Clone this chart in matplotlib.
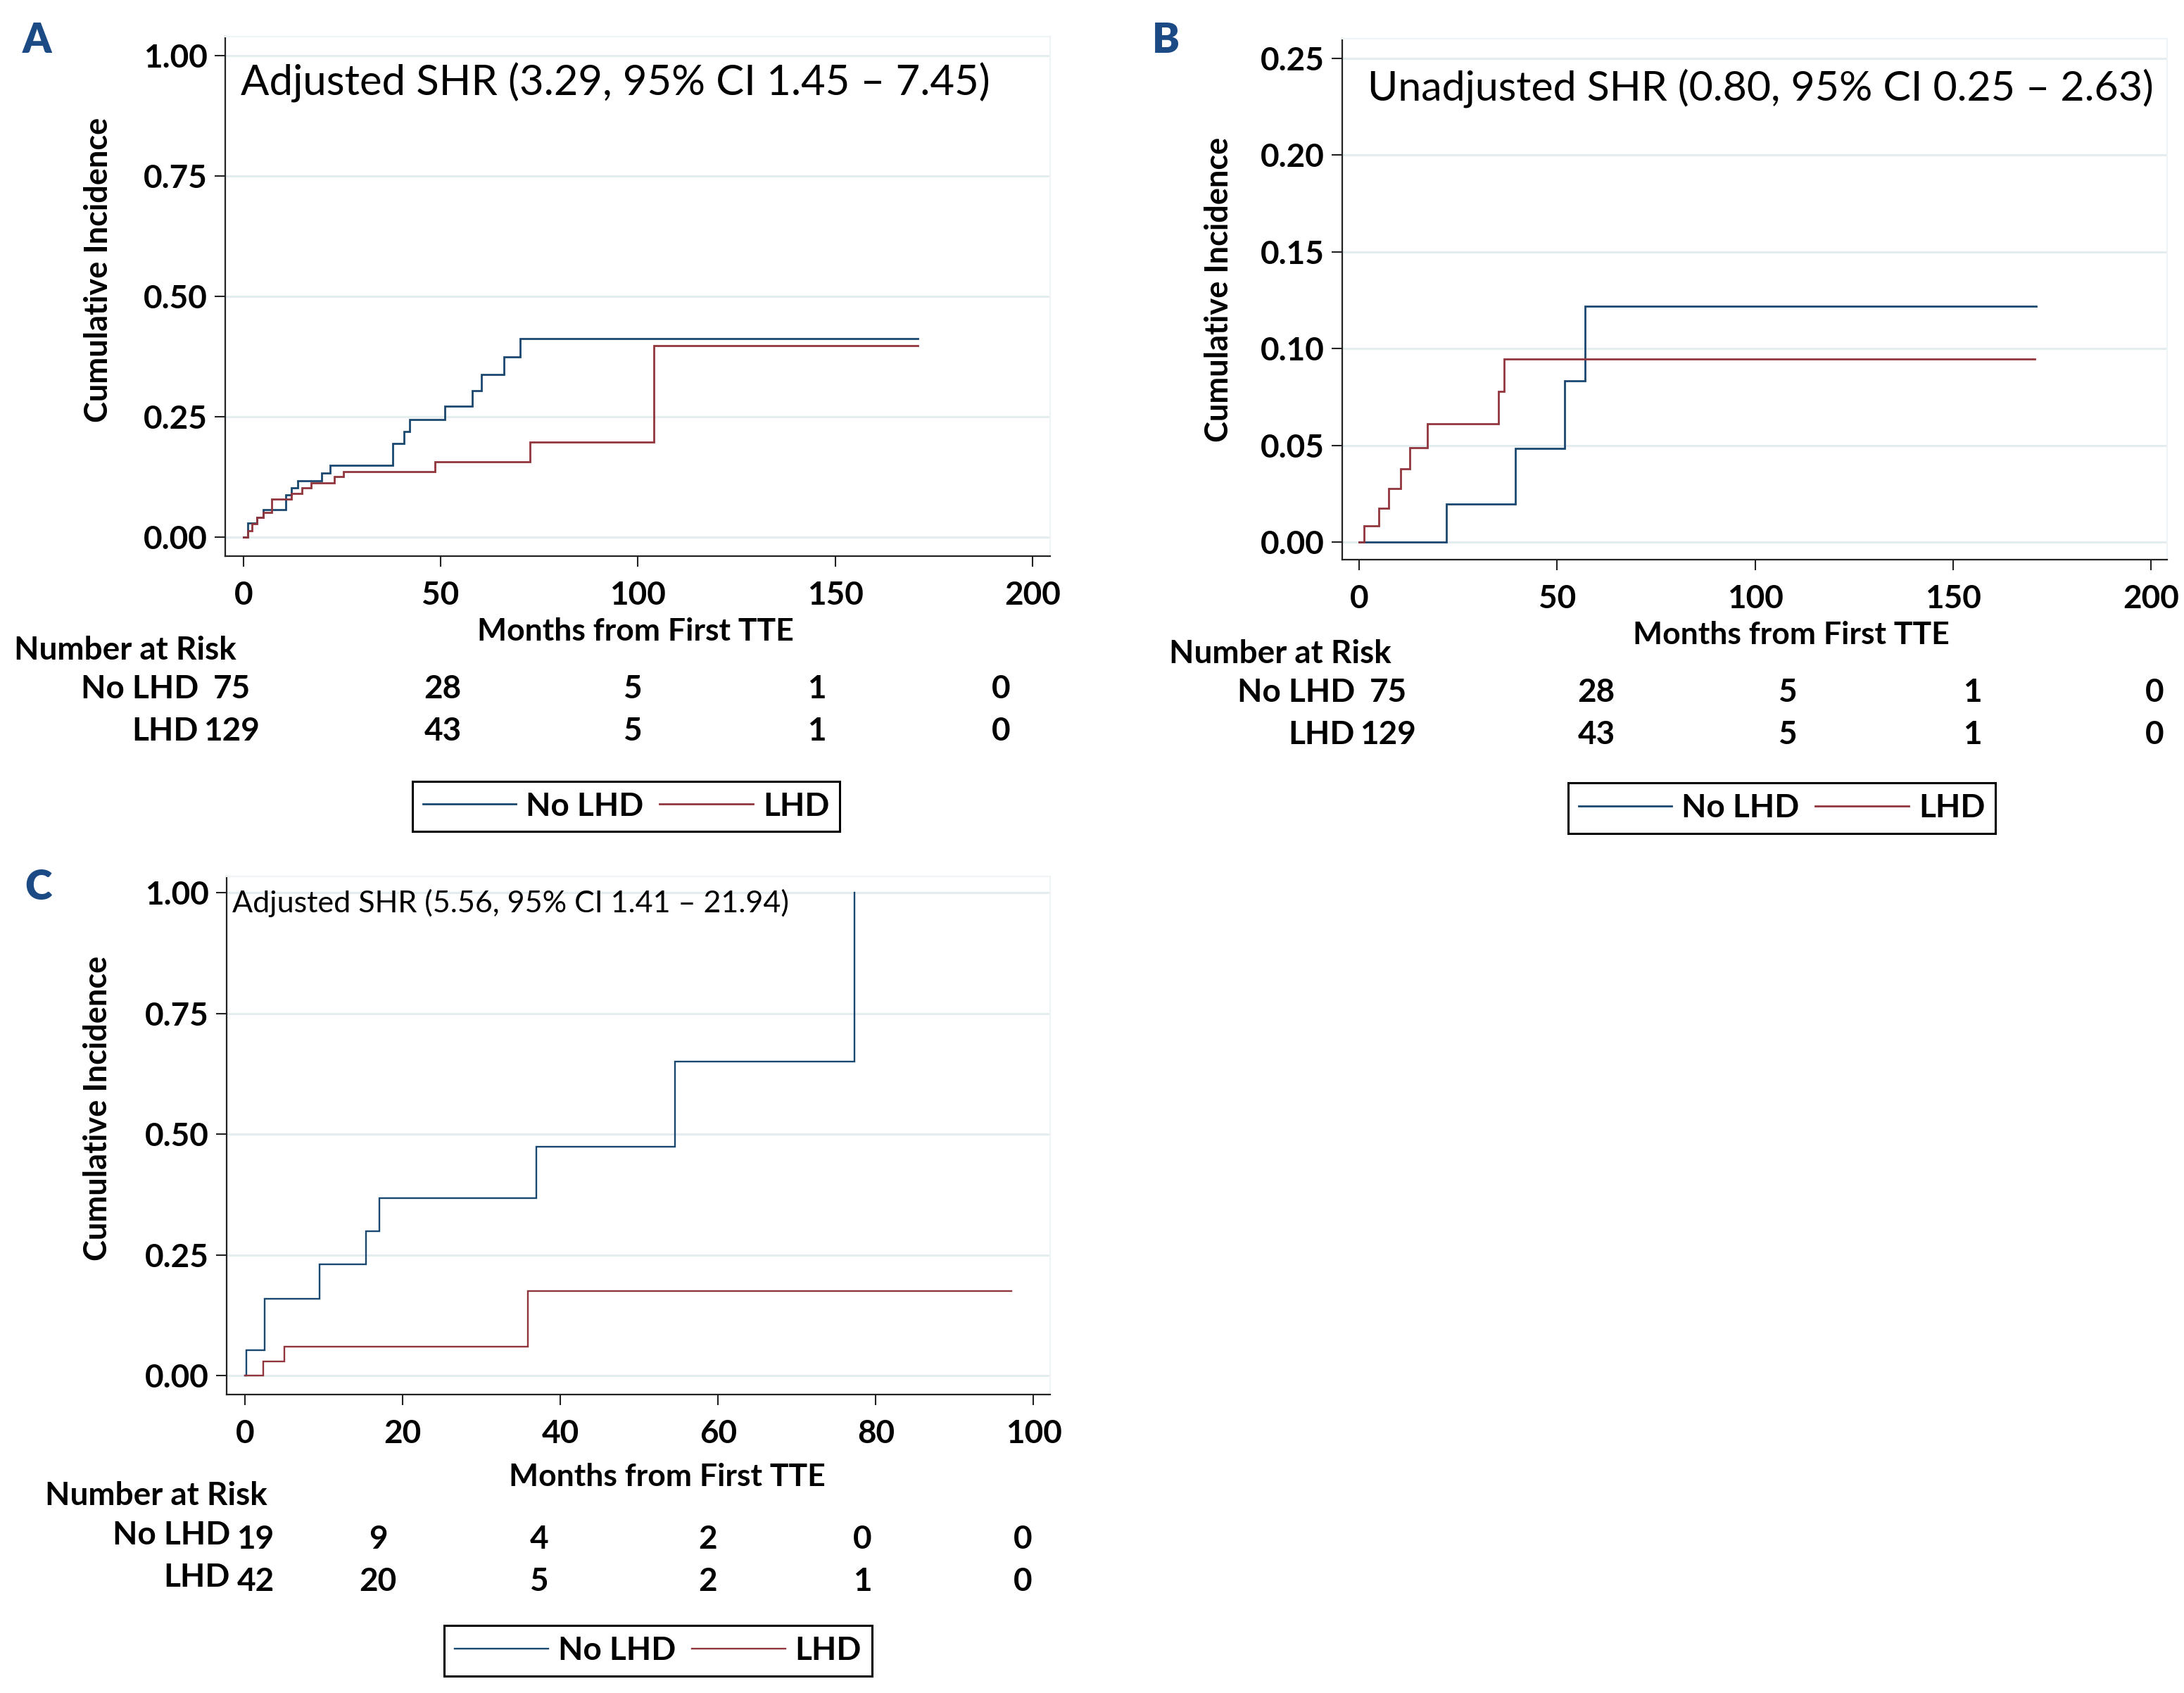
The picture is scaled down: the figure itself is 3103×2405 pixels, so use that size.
import matplotlib
matplotlib.use("Agg")
import matplotlib.pyplot as plt
from matplotlib.lines import Line2D

plt.rcParams['font.family'] = ['Lato', 'DejaVu Sans']

# ---- data ----
# panel A: adjusted, whole cohort
a_nolhd_t = [0, 1.1, 3.4, 5.1, 10.7, 12.1, 13.7, 19.9, 21.9, 37.9, 40.7, 42.2, 51.0, 58.1, 60.3, 66.0, 70.1, 171]
a_nolhd_y = [0, 0.029, 0.042, 0.057, 0.088, 0.103, 0.117, 0.134, 0.150, 0.195, 0.219, 0.245, 0.272, 0.304, 0.338, 0.375, 0.413, 0.413]
a_lhd_t = [0, 1.1, 2.1, 3.4, 5.1, 7.1, 12.1, 14.8, 17.1, 23.0, 25.3, 48.6, 72.6, 104.1, 171]
a_lhd_y = [0, 0.013, 0.028, 0.042, 0.052, 0.080, 0.091, 0.103, 0.113, 0.126, 0.137, 0.157, 0.198, 0.398, 0.398]

# panel B: unadjusted
b_nolhd_t = [0, 22.1, 39.4, 51.9, 57.1, 171]
b_nolhd_y = [0, 0.0198, 0.0484, 0.0835, 0.1218, 0.1218]
b_lhd_t = [0, 1.25, 5.0, 7.5, 10.4, 12.75, 17.25, 35.25, 36.6, 170.75]
b_lhd_y = [0, 0.0083, 0.0174, 0.0277, 0.0380, 0.0489, 0.0613, 0.0777, 0.0947, 0.0947]

# panel C: adjusted, subgroup
c_nolhd_t = [0, 0.2, 2.5, 9.5, 15.4, 17.05, 37.0, 54.5, 77.3]
c_nolhd_y = [0, 0.053, 0.159, 0.230, 0.299, 0.368, 0.474, 0.650, 1.0]
c_lhd_t = [0, 2.3, 5.0, 35.9, 97.2]
c_lhd_y = [0, 0.029, 0.060, 0.176, 0.176]

ab_xticks = [0, 50, 100, 150, 200]
a_yticks = [0, 0.25, 0.50, 0.75, 1.00]
b_yticks = [0, 0.05, 0.10, 0.15, 0.20, 0.25]
c_xticks = [0, 20, 40, 60, 80, 100]

ab_risk_nolhd = ['75', '28', '5', '1', '0']
ab_risk_lhd = ['129', '43', '5', '1', '0']
c_risk_nolhd = ['19', '9', '4', '2', '0', '0']
c_risk_lhd = ['42', '20', '5', '2', '1', '0']

a_note = 'Adjusted SHR (3.29, 95% CI 1.45 \u2013 7.45)'
b_note = 'Unadjusted SHR (0.80, 95% CI 0.25 \u2013 2.63)'
c_note = 'Adjusted SHR (5.56, 95% CI 1.41 \u2013 21.94)'

NAVY = '#1a476f'
MAROON = '#90353b'
GRID = '#e3ecef'
AXC = '#222222'
LETTER = '#1b4a84'

W, H = 3103, 2405
fig = plt.figure(figsize=(W / 100, H / 100), dpi=100)


def fx(px):
    return px / W


def fy(py):
    return 1 - py / H


def make_axes(left, top, right, bottom):
    return fig.add_axes([fx(left), fy(bottom), (right - left) / W, (bottom - top) / H])


def draw_panel(ax, curves, xlim, ylim, xticks, yticks, lw):
    for t, y, c in curves:
        ax.step(t, y, where='post', color=c, lw=lw, solid_joinstyle='miter')
    ax.set_xlim(*xlim)
    ax.set_ylim(*ylim)
    ax.set_xticks(xticks)
    ax.set_yticks(yticks)
    ax.set_yticklabels([f'{v:.2f}' for v in yticks])
    ax.yaxis.grid(True, color=GRID, lw=2.2)
    ax.set_axisbelow(True)
    for s in ['left', 'bottom']:
        ax.spines[s].set_color(AXC)
        ax.spines[s].set_linewidth(1.6)
    for s in ['top', 'right']:
        ax.spines[s].set_color('#eef3f5')
        ax.spines[s].set_linewidth(1.5)
    ax.tick_params(axis='both', direction='out', length=11, width=1.5, color=AXC,
                   labelsize=33)
    ax.tick_params(axis='y', pad=7)
    ax.tick_params(axis='x', pad=14)
    for lab in ax.get_xticklabels() + ax.get_yticklabels():
        lab.set_fontweight('bold')
    ax.set_xlabel('Months from First TTE', fontsize=32, fontweight='bold')
    ax.set_ylabel('Cumulative Incidence', fontsize=32.5, fontweight='bold')
    ax.xaxis.label.set_va('center')
    ax.yaxis.label.set_va('center')


def risk_table(title_xy, label_right, rows_y, cols_x, nolhd, lhd, label_dy=0):
    fig.text(fx(title_xy[0]), fy(title_xy[1]), 'Number at Risk', fontsize=33,
             fontweight='bold', ha='left', va='baseline')
    for name, vals, yy in [('No LHD', nolhd, rows_y[0]), ('LHD', lhd, rows_y[1])]:
        fig.text(fx(label_right), fy(yy + label_dy), name, fontsize=33,
                 fontweight='bold', ha='right', va='baseline')
        for xx, v in zip(cols_x, vals):
            fig.text(fx(xx), fy(yy), v, fontsize=33, fontweight='bold',
                     ha='center', va='baseline')


def add_legend(ax, cx, cy, lw):
    handles = [Line2D([], [], color=NAVY, lw=lw), Line2D([], [], color=MAROON, lw=lw)]
    leg = ax.legend(handles, ['No LHD', 'LHD'], loc='center', ncol=2,
                    bbox_to_anchor=(fx(cx), fy(cy)), bbox_transform=fig.transFigure,
                    prop={'size': 33, 'weight': 'bold'}, frameon=True, fancybox=False,
                    edgecolor='black', framealpha=1, handlelength=2.9,
                    handletextpad=0.3, columnspacing=0.5, borderpad=0.32,
                    borderaxespad=0)
    leg.get_frame().set_linewidth(2.2)


# ---- panel A ----
axA = make_axes(320, 52, 1492, 790)
draw_panel(axA, [(a_nolhd_t, a_nolhd_y, NAVY), (a_lhd_t, a_lhd_y, MAROON)],
           (-4.6, 204.5), (-0.039, 1.039), ab_xticks, a_yticks, 2.0)
axA.xaxis.set_label_coords(0.497, -0.145)
axA.yaxis.set_label_coords(-0.1536, 0.5515)
axA.text(0.0188, 0.8875, a_note, transform=axA.transAxes, fontsize=43,
         ha='left', va='baseline')
risk_table((20, 937), 282, (992, 1052), [329, 629, 899, 1160, 1422],
           ab_risk_nolhd, ab_risk_lhd)
add_legend(axA, 889.5, 1145.5, 2.0)
fig.text(fx(32), fy(75), 'A', fontsize=42, fontweight='heavy', color=LETTER,
         ha='left', va='baseline')

# ---- panel B ----
axB = make_axes(1907, 55, 3079, 795)
draw_panel(axB, [(b_nolhd_t, b_nolhd_y, NAVY), (b_lhd_t, b_lhd_y, MAROON)],
           (-4.3, 204.1), (-0.0091, 0.2602), ab_xticks, b_yticks, 2.0)
axB.xaxis.set_label_coords(0.544, -0.1446)
axB.yaxis.set_label_coords(-0.149, 0.519)
axB.text(0.0307, 0.8824, b_note, transform=axB.transAxes, fontsize=42.5,
         ha='left', va='baseline')
risk_table((1661, 942), 1925, (997, 1057), [1972, 2268, 2540, 2802, 3061],
           ab_risk_nolhd, ab_risk_lhd)
add_legend(axB, 2531.5, 1148, 2.0)
fig.text(fx(1637), fy(75), 'B', fontsize=42, fontweight='heavy', color=LETTER,
         ha='left', va='baseline')

# ---- panel C ----
axC = make_axes(322, 1245, 1492, 1981)
draw_panel(axC, [(c_nolhd_t, c_nolhd_y, NAVY), (c_lhd_t, c_lhd_y, MAROON)],
           (-2.3, 102.1), (-0.039, 1.034), c_xticks, a_yticks, 1.7)
axC.xaxis.set_label_coords(0.535, -0.159)
axC.yaxis.set_label_coords(-0.156, 0.553)
axC.text(0.0068, 0.9307, c_note, transform=axC.transAxes, fontsize=31,
         ha='left', va='baseline')
risk_table((64, 2138), 327, (2200, 2260), [363, 537, 766, 1006, 1225, 1453],
           c_risk_nolhd, c_risk_lhd, label_dy=-6)
add_legend(axC, 935, 2345, 1.7)
fig.text(fx(35), fy(1278), 'C', fontsize=42, fontweight='heavy', color=LETTER,
         ha='left', va='baseline')

fig.savefig('out.png', dpi=100, facecolor='white')
